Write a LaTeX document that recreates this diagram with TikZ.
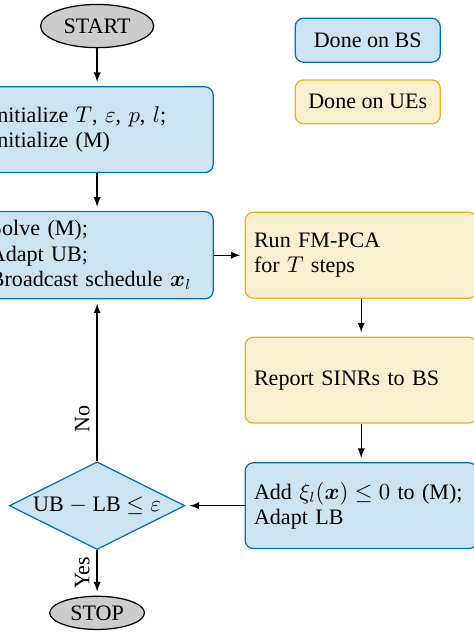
\documentclass[tikz,border=0pt]{standalone}
\usepackage{amsmath}
\usepackage{fontspec}
\setmainfont{Liberation Serif}
\usetikzlibrary{shapes.geometric,arrows}

\definecolor{bsblue}{RGB}{0,114,189}
\definecolor{ueyellow}{RGB}{237,177,32}

\tikzset{bsbox/.style={rectangle,rounded corners=4pt,draw=bsblue,fill=bsblue!20,semithick,text width=3.62cm,minimum height=1.45cm,inner sep=0.15cm,align=left}}
\tikzset{uebox/.style={bsbox,draw=ueyellow,fill=ueyellow!20}}
\tikzset{legendbox/.style={rectangle,rounded corners=4pt,semithick,minimum width=2.45cm,minimum height=0.74cm,align=center}}
\tikzset{terminal/.style={ellipse,draw,fill=gray!40,semithick,inner sep=1pt}}
\tikzset{decision/.style={diamond,aspect=2,draw=bsblue,fill=bsblue!20,semithick,inner sep=1pt}}
\tikzset{flow/.style={-latex,semithick,shorten >=2pt}}

\begin{document}
\begin{tikzpicture}[every node/.style={font=\fontsize{10.6}{12.2}\selectfont}]
                  \useasboundingbox (0,0) rectangle (7.99,-10.69);
                  % main loop
                  \node[terminal,minimum width=1.91cm,minimum height=0.73cm] (start) at (1.64,-0.44) {START};
                  \node[bsbox] (init) at (1.64,-2.19) {Initialize $T$, $\varepsilon$, $p$, $l$;\\ Initialize (M)};
                  \node[bsbox] (solve) at (1.64,-4.31) {Solve (M);\\ Adapt UB;\\ Broadcast schedule $\boldsymbol{x}_l$};
                  \node[uebox] (fmpca) at (6.10,-4.31) {Run FM-PCA\\ for $T$ steps};
                  \node[uebox] (report) at (6.10,-6.42) {Report SINRs to BS};
                  \node[bsbox] (addcut) at (6.10,-8.54) {Add $\xi_l(\boldsymbol{x}) \leq 0$ to (M);\\ Adapt LB};
                  \node[decision] (check) at (1.64,-8.54) {UB $-$ LB $\leq \varepsilon$};
                  \node[terminal,minimum width=1.6cm,minimum height=0.56cm] (stop) at (1.64,-10.35) {STOP};
                  % legend
                  \node[legendbox,draw=bsblue,fill=bsblue!20] (legbs) at (6.21,-0.68) {Done on BS};
                  \node[legendbox,draw=ueyellow,fill=ueyellow!20] (legue) at (6.21,-1.72) {Done on UEs};
                  \draw[flow] (start) -- (init);
                  \draw[flow] (init) -- (solve);
                  \draw[flow] (solve) -- (fmpca);
                  \draw[flow] (fmpca) -- (report);
                  \draw[flow] (report) -- (addcut);
                  \draw[flow] (addcut) -- (check);
                  \draw[flow] (check) -- node[pos=0.26,rotate=90,anchor=south] {No} (solve);
                  \draw[flow] (check) -- node[midway,rotate=90,anchor=south] {Yes} (stop);
              \end{tikzpicture}
\end{document}
